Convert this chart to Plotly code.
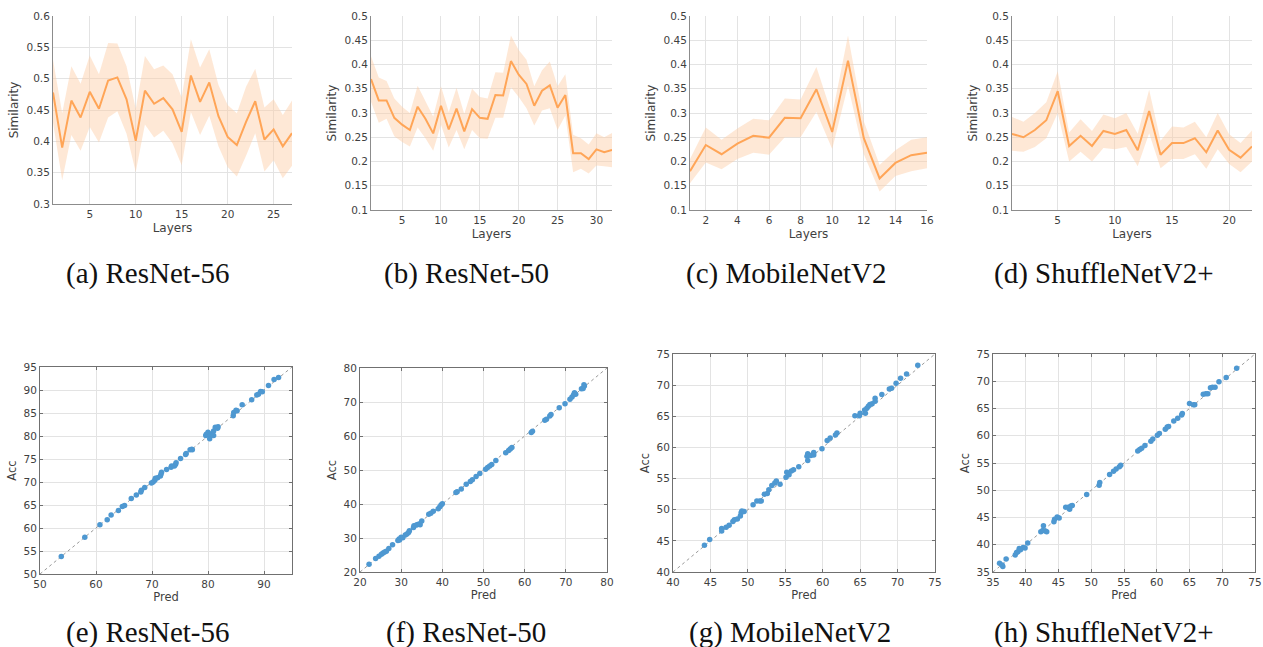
import plotly.graph_objects as go

W, H = 1263, 647

# ---------------- Similarity data (top row) ----------------
r56_layers = list(range(1, 28))
r56_mean = [0.478, 0.390, 0.465, 0.438, 0.479, 0.452, 0.497, 0.502, 0.467, 0.401,
            0.481, 0.460, 0.469, 0.451, 0.415, 0.505, 0.463, 0.494, 0.440, 0.407,
            0.394, 0.431, 0.464, 0.403, 0.419, 0.392, 0.413]
r56_upper = [0.530, 0.445, 0.520, 0.492, 0.537, 0.507, 0.557, 0.556, 0.520, 0.452,
             0.536, 0.515, 0.521, 0.507, 0.470, 0.563, 0.518, 0.547, 0.490, 0.458,
             0.445, 0.487, 0.516, 0.454, 0.467, 0.442, 0.465]
r56_lower = [0.430, 0.338, 0.410, 0.385, 0.423, 0.398, 0.438, 0.448, 0.412, 0.351,
             0.427, 0.406, 0.417, 0.397, 0.362, 0.447, 0.410, 0.441, 0.392, 0.359,
             0.344, 0.377, 0.413, 0.352, 0.370, 0.341, 0.361]

r50_layers = list(range(1, 33))
r50_mean = [0.370, 0.326, 0.326, 0.290, 0.276, 0.265, 0.313, 0.288, 0.258, 0.315,
            0.266, 0.309, 0.262, 0.308, 0.290, 0.288, 0.337, 0.336, 0.407, 0.379,
            0.360, 0.315, 0.346, 0.357, 0.311, 0.337, 0.217, 0.217, 0.205, 0.225,
            0.219, 0.224]
r50_upper = [0.417, 0.373, 0.366, 0.330, 0.313, 0.300, 0.356, 0.325, 0.293, 0.355,
             0.302, 0.352, 0.298, 0.350, 0.333, 0.330, 0.384, 0.383, 0.460, 0.430,
             0.410, 0.355, 0.388, 0.406, 0.355, 0.380, 0.255, 0.248, 0.235, 0.258,
             0.250, 0.259]
r50_lower = [0.323, 0.280, 0.288, 0.252, 0.240, 0.231, 0.270, 0.248, 0.222, 0.276,
             0.229, 0.265, 0.225, 0.265, 0.248, 0.247, 0.290, 0.290, 0.353, 0.333,
             0.310, 0.274, 0.305, 0.310, 0.265, 0.295, 0.178, 0.185, 0.175, 0.192,
             0.190, 0.188]

mb_layers = list(range(1, 17))
mb_mean = [0.180, 0.234, 0.215, 0.237, 0.253, 0.249, 0.290, 0.289, 0.349, 0.261,
           0.408, 0.248, 0.165, 0.197, 0.213, 0.218]
mb_upper = [0.205, 0.270, 0.245, 0.268, 0.288, 0.285, 0.330, 0.328, 0.395, 0.296,
            0.460, 0.283, 0.193, 0.223, 0.245, 0.250]
mb_lower = [0.155, 0.198, 0.184, 0.205, 0.218, 0.214, 0.250, 0.250, 0.302, 0.226,
            0.356, 0.215, 0.138, 0.170, 0.180, 0.186]

sh_layers = list(range(1, 23))
sh_mean = [0.257, 0.250, 0.265, 0.285, 0.345, 0.232, 0.253, 0.232, 0.263, 0.257,
           0.265, 0.223, 0.304, 0.214, 0.238, 0.238, 0.248, 0.219, 0.264, 0.224,
           0.208, 0.231]
sh_upper = [0.292, 0.282, 0.300, 0.322, 0.386, 0.260, 0.287, 0.263, 0.297, 0.289,
            0.300, 0.257, 0.348, 0.243, 0.272, 0.270, 0.282, 0.250, 0.300, 0.256,
            0.238, 0.264]
sh_lower = [0.222, 0.220, 0.230, 0.248, 0.300, 0.200, 0.220, 0.200, 0.228, 0.225,
            0.230, 0.190, 0.258, 0.186, 0.205, 0.205, 0.215, 0.185, 0.225, 0.195,
            0.178, 0.200]

# ---------------- Pred vs Acc data (bottom row) ----------------
e_pred = [53.8, 58.0, 60.7, 62.0, 62.7, 64.0, 64.7, 65.1, 66.3, 67.2, 68.0, 68.1, 68.7,
          69.9, 70.2, 70.5, 70.6, 71.0, 71.5, 71.6, 71.7, 72.6, 73.4, 73.5, 74.0, 74.2,
          74.3, 75.1, 76.0, 76.1, 76.8, 77.1, 77.2, 79.6, 79.7, 80.0, 80.3, 80.4, 80.6,
          81.0, 81.0, 81.3, 81.8, 81.7, 84.5, 84.6, 85.0, 85.2, 86.1, 87.8, 88.7, 89.0,
          89.4, 89.7, 90.8, 91.8, 92.6]
e_acc = [53.8, 58.0, 60.7, 61.8, 62.8, 63.8, 64.7, 64.9, 66.4, 67.2, 67.8, 68.2, 68.8,
         69.8, 70.0, 70.4, 70.8, 70.9, 71.3, 71.7, 72.1, 72.7, 73.2, 73.5, 73.5, 73.8,
         74.2, 75.1, 76.0, 76.2, 77.0, 77.1, 77.0, 80.1, 80.4, 80.8, 79.4, 80.1, 80.5,
         80.1, 81.1, 81.9, 82.0, 81.7, 84.4, 85.1, 85.6, 85.5, 86.8, 87.9, 88.9, 89.1,
         89.7, 89.6, 91.0, 92.3, 92.7]

f_pred = [22.2, 23.8, 24.6, 25.2, 25.6, 26.0, 26.4, 27.0, 27.9, 29.2, 29.5, 29.6, 30.0,
          30.4, 31.0, 31.4, 31.8, 32.0, 33.0, 33.1, 33.7, 34.0, 34.5, 34.6, 35.0, 36.7,
          37.2, 37.8, 39.0, 39.4, 39.7, 40.0, 43.3, 43.6, 44.6, 45.8, 46.8, 47.3, 48.2,
          49.1, 50.5, 51.0, 51.5, 52.0, 53.0, 55.4, 56.1, 56.5, 56.9, 61.6, 61.9, 64.9,
          65.3, 66.1, 66.4, 68.4, 69.8, 71.0, 71.5, 71.9, 72.1, 72.4, 73.8, 74.2, 74.4,
          74.5]
f_acc = [22.3, 24.0, 24.6, 25.2, 25.6, 25.9, 26.1, 26.9, 28.0, 29.3, 29.7, 29.4, 30.2,
         30.1, 30.9, 31.2, 31.6, 32.1, 33.1, 33.6, 33.8, 34.0, 34.2, 33.9, 35.0, 37.0,
         37.3, 37.9, 38.6, 39.2, 39.7, 40.1, 43.4, 43.6, 44.4, 45.8, 46.6, 47.1, 48.1,
         49.0, 50.2, 50.7, 51.2, 51.6, 52.8, 55.1, 55.7, 56.2, 56.6, 61.0, 61.4, 64.6,
         64.9, 65.9, 66.3, 68.3, 69.5, 70.8, 71.5, 72.1, 72.7, 72.3, 73.9, 74.0, 75.1,
         74.7]

g_pred = [44.2, 44.9, 46.5, 46.5, 47.1, 47.5, 48.0, 48.2, 48.6, 49.0, 49.1, 49.2, 49.5,
          50.7, 51.2, 51.6, 51.8, 52.2, 52.6, 52.8, 53.2, 53.6, 53.8, 54.3, 55.1, 55.2,
          55.5, 55.8, 56.1, 56.8, 57.9, 58.0, 58.0, 58.4, 58.8, 58.8, 59.9, 60.6, 61.0,
          61.7, 61.9, 64.3, 64.9, 65.0, 65.6, 65.7, 65.9, 66.1, 66.3, 66.6, 67.0, 67.0,
          67.9, 68.9, 69.2, 69.8, 70.4, 71.2, 72.7]
g_acc = [44.3, 45.2, 47.0, 46.6, 47.2, 47.5, 48.1, 48.4, 48.5, 49.0, 49.5, 49.8, 49.7,
         50.8, 51.4, 51.4, 51.4, 52.5, 52.6, 53.2, 53.9, 54.3, 54.6, 54.1, 55.2, 56.0,
         55.6, 56.2, 56.4, 56.9, 58.6, 57.9, 59.0, 58.7, 58.8, 59.2, 59.8, 61.1, 61.5,
         62.0, 62.3, 65.1, 65.1, 65.5, 66.0, 65.5, 66.3, 66.6, 66.9, 67.0, 67.4, 67.9,
         68.5, 69.4, 69.5, 70.3, 71.1, 71.8, 73.2]

h_pred = [36.0, 36.5, 36.4, 37.0, 38.4, 38.6, 38.8, 39.0, 39.2, 39.6, 39.9, 40.3, 42.3,
          42.6, 42.7, 43.0, 43.2, 44.3, 44.4, 44.8, 45.1, 46.1, 46.5, 46.7, 46.9, 47.1,
          49.3, 51.2, 51.3, 52.8, 53.4, 53.8, 54.3, 54.5, 57.1, 57.4, 57.7, 58.2, 59.1,
          59.4, 60.1, 60.4, 61.3, 61.6, 61.8, 62.6, 63.2, 63.8, 63.9, 65.0, 65.6, 65.8,
          67.1, 67.5, 67.8, 68.2, 68.5, 68.9, 69.5, 70.6, 72.2]
h_acc = [36.6, 36.0, 36.3, 37.4, 38.1, 38.6, 38.7, 39.3, 39.1, 39.5, 39.4, 40.3, 42.4,
         42.6, 43.5, 42.5, 42.4, 44.2, 44.7, 45.1, 44.9, 46.9, 46.9, 46.5, 47.1, 47.2,
         49.2, 50.9, 51.4, 52.9, 53.5, 53.9, 54.3, 54.6, 57.2, 57.5, 57.7, 58.2, 59.0,
         59.4, 60.1, 60.4, 61.2, 61.6, 61.7, 62.7, 63.2, 63.8, 64.1, 65.9, 65.7, 65.7,
         67.6, 67.7, 67.7, 68.8, 68.9, 68.9, 69.9, 70.7, 72.4]

# ---------------- tick labels ----------------
a_xticks = [5, 10, 15, 20, 25]
a_yticks = [0.3, 0.35, 0.4, 0.45, 0.5, 0.55, 0.6]
a_ytext = ["0.3", "0.35", "0.4", "0.45", "0.5", "0.55", "0.6"]
b_xticks = [5, 10, 15, 20, 25, 30]
c_xticks = [2, 4, 6, 8, 10, 12, 14, 16]
d_xticks = [5, 10, 15, 20]
bcd_yticks = [0.1, 0.15, 0.2, 0.25, 0.3, 0.35, 0.4, 0.45, 0.5]
bcd_ytext = ["0.1", "0.15", "0.2", "0.25", "0.3", "0.35", "0.4", "0.45", "0.5"]

e_xticks = [50, 60, 70, 80, 90]
e_yticks = [50, 55, 60, 65, 70, 75, 80, 85, 90, 95]
f_ticks = [20, 30, 40, 50, 60, 70, 80]
g_ticks = [40, 45, 50, 55, 60, 65, 70, 75]
h_ticks = [35, 40, 45, 50, 55, 60, 65, 70, 75]

captions_top = ["(a) ResNet-56", "(b) ResNet-50", "(c) MobileNetV2", "(d) ShuffleNetV2+"]
captions_bot = ["(e) ResNet-56", "(f) ResNet-50", "(g) MobileNetV2", "(h) ShuffleNetV2+"]

# ---------------- styling ----------------
ORANGE = "#FFA557"
FILL = "rgba(253,205,165,0.45)"
BLUE = "#4E98D1"
GRID = "#E3E3E3"
AX = "#8C8C8C"
TICKC = "#3F3F3F"
SANS = "DejaVu Sans"
SERIF = "Liberation Serif"
TICK_SIZE = 10.5
TITLE_SIZE = 12


def px_dom_x(l, r):
    return [l / W, r / W]


def px_dom_y(t, b):
    return [1 - b / H, 1 - t / H]


fig = go.Figure()

top_panels = [
    (r56_layers, r56_mean, r56_upper, r56_lower, [1, 27], [0.3, 0.6], a_xticks, a_yticks, a_ytext,
     (53, 292, 16, 204)),
    (r50_layers, r50_mean, r50_upper, r50_lower, [1, 32], [0.1, 0.5], b_xticks, bcd_yticks, bcd_ytext,
     (371, 612, 16, 210)),
    (mb_layers, mb_mean, mb_upper, mb_lower, [1, 16], [0.1, 0.5], c_xticks, bcd_yticks, bcd_ytext,
     (690, 927, 16, 210)),
    (sh_layers, sh_mean, sh_upper, sh_lower, [1, 22], [0.1, 0.5], d_xticks, bcd_yticks, bcd_ytext,
     (1012, 1252, 16, 210)),
]

bot_panels = [
    (e_pred, e_acc, [50, 95], [50, 95], e_xticks, e_yticks, (40, 292, 367, 574)),
    (f_pred, f_acc, [20, 80], [20, 80], f_ticks, f_ticks, (360, 607, 368, 572)),
    (g_pred, g_acc, [40, 75], [40, 75], g_ticks, g_ticks, (673, 935, 354, 572)),
    (h_pred, h_acc, [35, 75], [35, 75], h_ticks, h_ticks, (993, 1255, 354, 572)),
]

layout = {}
idx = 0
for (xs, m, up, lo, xr, yr, xt, yt, ytt, box) in top_panels:
    idx += 1
    xa = "x" if idx == 1 else f"x{idx}"
    ya = "y" if idx == 1 else f"y{idx}"
    fig.add_trace(go.Scatter(x=list(xs) + list(xs)[::-1], y=list(up) + list(lo)[::-1],
                             fill="toself", fillcolor=FILL, line=dict(width=0),
                             mode="lines", hoverinfo="skip", showlegend=False,
                             xaxis=xa, yaxis=ya))
    fig.add_trace(go.Scatter(x=xs, y=m, mode="lines", line=dict(color=ORANGE, width=2),
                             showlegend=False, xaxis=xa, yaxis=ya))
    l, r, t, b = box
    layout[f"xaxis{idx}"] = dict(domain=px_dom_x(l, r), anchor=ya, range=xr, automargin=False,
                                 tickvals=xt, showgrid=True, gridcolor=GRID, zeroline=False,
                                 showline=True, linecolor=AX, linewidth=1, ticks="", ticklen=0,
                                 ticklabeloverflow="allow",
                                 tickfont=dict(family=SANS, size=TICK_SIZE, color=TICKC),
                                 title=dict(text="Layers", font=dict(family=SANS, size=TITLE_SIZE, color=TICKC),
                                            standoff=5))
    layout[f"yaxis{idx}"] = dict(domain=px_dom_y(t, b), anchor=xa, range=yr, automargin=False,
                                 tickvals=yt, ticktext=ytt, showgrid=True, gridcolor=GRID,
                                 zeroline=False, showline=True, linecolor=AX, linewidth=1,
                                 ticks="", ticklen=0, ticklabeloverflow="allow",
                                 tickfont=dict(family=SANS, size=TICK_SIZE, color=TICKC),
                                 title=dict(text="Similarity", font=dict(family=SANS, size=TITLE_SIZE, color=TICKC),
                                            standoff=5))

for (px, ac, xr, yr, xt, yt, box) in bot_panels:
    idx += 1
    xa = f"x{idx}"
    ya = f"y{idx}"
    fig.add_trace(go.Scatter(x=xr, y=yr, mode="lines",
                             line=dict(color="#9A9A9A", width=1, dash="dot"),
                             showlegend=False, hoverinfo="skip", xaxis=xa, yaxis=ya))
    fig.add_trace(go.Scatter(x=px, y=ac, mode="markers",
                             marker=dict(color=BLUE, size=5.5, line=dict(width=0)),
                             showlegend=False, xaxis=xa, yaxis=ya))
    l, r, t, b = box
    layout[f"xaxis{idx}"] = dict(domain=px_dom_x(l, r), anchor=ya, range=xr, automargin=False,
                                 tickvals=xt, showgrid=True, gridcolor=GRID, zeroline=False,
                                 showline=True, mirror="ticks", linecolor="#707070", linewidth=1,
                                 ticks="inside", ticklen=3, tickcolor="#707070",
                                 ticklabeloverflow="allow",
                                 tickfont=dict(family=SANS, size=TICK_SIZE, color=TICKC),
                                 title=dict(text="Pred", font=dict(family=SANS, size=TITLE_SIZE - 0.5, color=TICKC),
                                            standoff=3))
    layout[f"yaxis{idx}"] = dict(domain=px_dom_y(t, b), anchor=xa, range=yr, automargin=False,
                                 tickvals=yt, showgrid=True, gridcolor=GRID, zeroline=False,
                                 showline=True, mirror="ticks", linecolor="#707070", linewidth=1,
                                 ticks="inside", ticklen=3, tickcolor="#707070",
                                 ticklabeloverflow="allow",
                                 tickfont=dict(family=SANS, size=TICK_SIZE, color=TICKC),
                                 title=dict(text="Acc", font=dict(family=SANS, size=TITLE_SIZE - 0.5, color=TICKC),
                                            standoff=4))

annotations = []
for cap, cx in zip(captions_top, [147, 467, 786, 1104]):
    annotations.append(dict(text=cap, x=cx / W, y=1 - 273 / H,
                            xref="paper", yref="paper",
                            showarrow=False, xanchor="center", yanchor="middle",
                            font=dict(family=SERIF, size=29, color="#111111")))
for cap, cx in zip(captions_bot, [147, 466, 790, 1104]):
    annotations.append(dict(text=cap, x=cx / W, y=1 - 632 / H,
                            xref="paper", yref="paper",
                            showarrow=False, xanchor="center", yanchor="middle",
                            font=dict(family=SERIF, size=29, color="#111111")))

fig.update_layout(width=W, height=H, margin=dict(l=0, r=0, t=0, b=0, autoexpand=False),
                  paper_bgcolor="white", plot_bgcolor="white",
                  annotations=annotations, **layout)

fig.write_html("out.html", config={"displayModeBar": False},
               post_script="document.body.style.margin='0';document.body.style.overflow='hidden';")
